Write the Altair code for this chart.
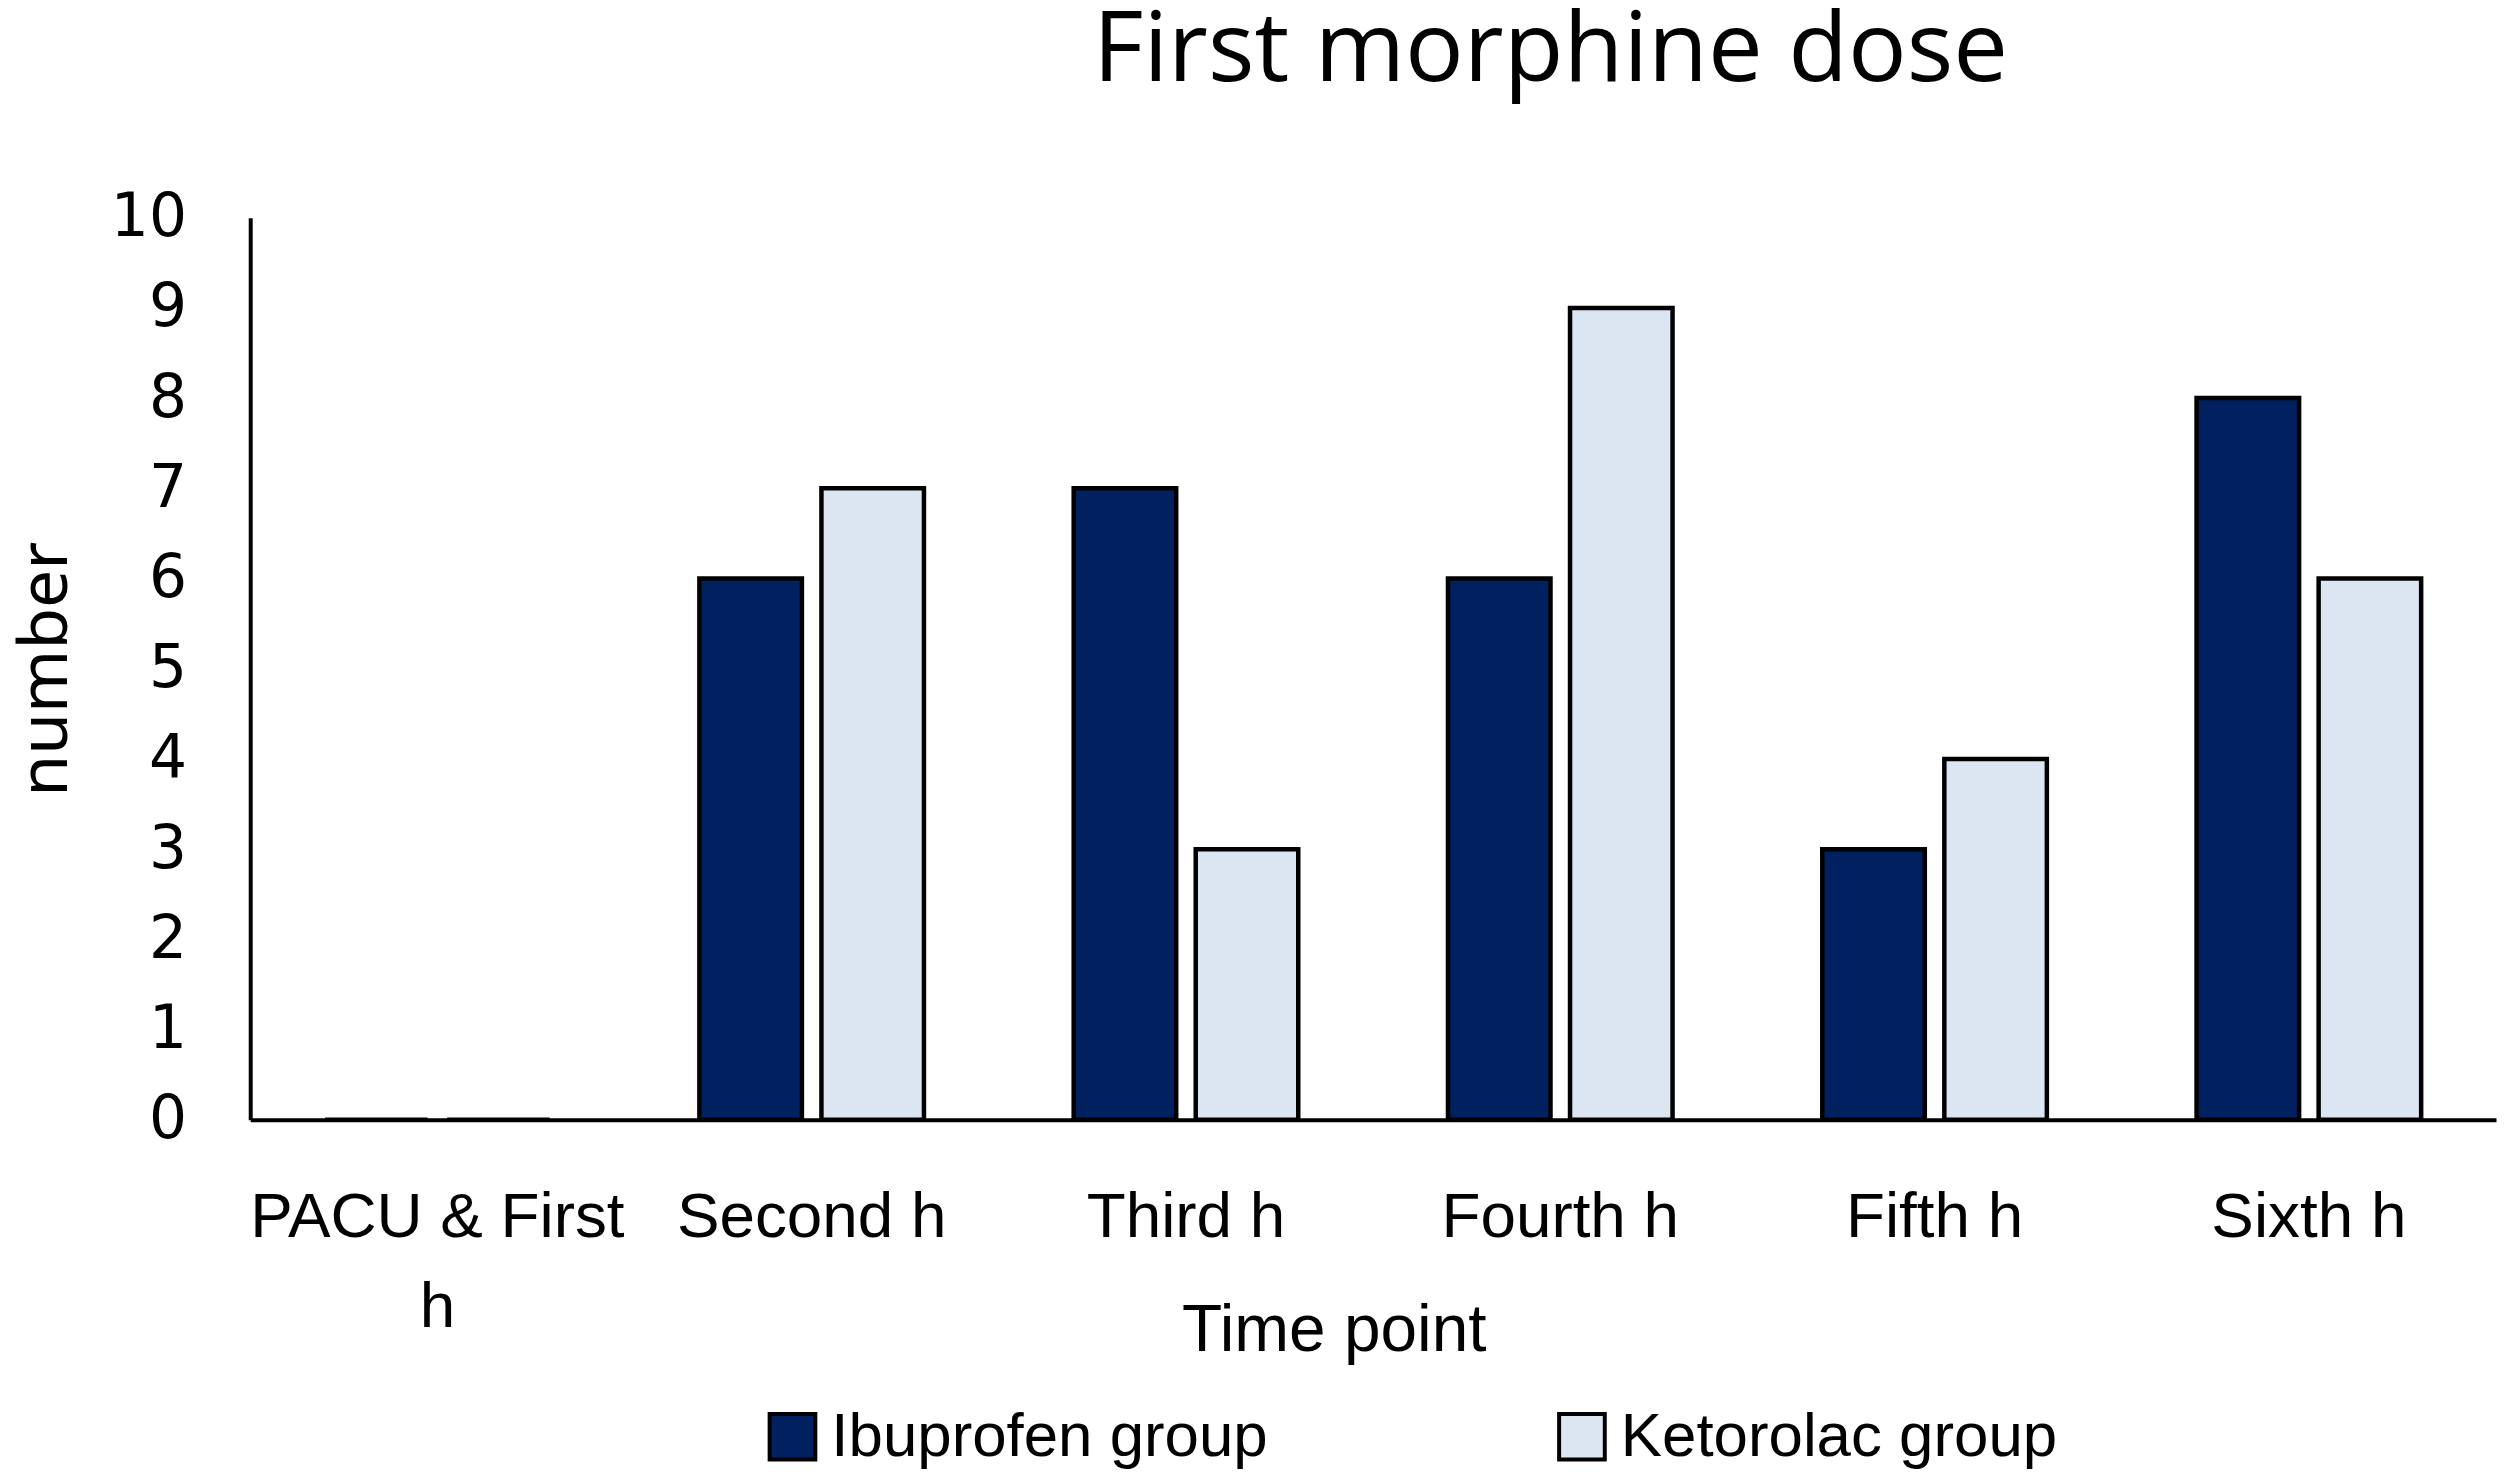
import altair as alt
import pandas as pd

categories = ["PACU & First h", "Second h", "Third h", "Fourth h", "Fifth h", "Sixth h"]
groups = ["Ibuprofen group", "Ketorolac group"]
ibuprofen = [0, 6, 7, 6, 3, 8]
ketorolac = [0, 7, 3, 9, 4, 6]
y_ticks = [0, 1, 2, 3, 4, 5, 6, 7, 8, 9, 10]

rows = []
for c, a, b in zip(categories, ibuprofen, ketorolac):
    rows.append({"time": c, "group": groups[0], "value": a})
    rows.append({"time": c, "group": groups[1], "value": b})
df = pd.DataFrame(rows)

LAB = "Liberation Sans, sans-serif"

bars = alt.Chart(df).mark_bar(stroke="black", strokeWidth=4.5).encode(
    x=alt.X("time:N", sort=categories,
            scale=alt.Scale(paddingInner=0.4, paddingOuter=0.2),
            axis=alt.Axis(title="Time point", labelAngle=0, ticks=False,
                          domainColor="black", domainWidth=4,
                          labelFont=LAB, labelFontSize=64, labelColor="black",
                          labelPadding=66, labelLineHeight=90, labelLimit=1000,
                          labelExpr="datum.label == 'PACU & First h' ? ['PACU & First', 'h'] : datum.label",
                          titleFont=LAB, titleFontSize=66, titleFontWeight="normal",
                          titleColor="black", titleX=1087, titleY=231,
                          titleAlign="center", titleBaseline="alphabetic")),
    xOffset=alt.XOffset("group:N", sort=groups, scale=alt.Scale(paddingInner=0.16)),
    y=alt.Y("value:Q", scale=alt.Scale(domain=[0, 10], nice=False),
            axis=alt.Axis(title="number", values=y_ticks, ticks=False, grid=False,
                          domainColor="black", domainWidth=4,
                          labelFont="DejaVu Sans", labelFontSize=60, labelColor="black",
                          labelPadding=64,
                          titleFont="Noto Sans", titleFontSize=68, titleFontWeight="normal",
                          titleColor="black", titlePadding=30)),
    color=alt.Color("group:N", sort=groups,
                    scale=alt.Scale(domain=groups, range=["#002060", "#DCE6F2"]),
                    legend=alt.Legend(title=None, orient="none", legendX=513, legendY=1192,
                                      direction="horizontal", columns=2, columnPadding=284,
                                      symbolType="square", symbolSize=2100,
                                      symbolStrokeColor="black", symbolStrokeWidth=4,
                                      labelFont=LAB, labelFontSize=62, labelColor="black",
                                      labelOffset=8, labelLimit=1000)),
)

chart = bars.properties(
    width=2253, height=905,
    title=alt.TitleParams("First morphine dose", font="Open Sans", fontSize=98,
                          fontWeight="normal", color="black", anchor="middle",
                          dx=178, offset=86),
    autosize=alt.AutoSizeParams(type="none"),
    padding={"left": 243, "top": 208, "right": 4, "bottom": 352},
).configure_view(stroke=None).configure_axis(grid=False)

chart.save("out.html", embed_options={"renderer": "svg", "actions": False})
